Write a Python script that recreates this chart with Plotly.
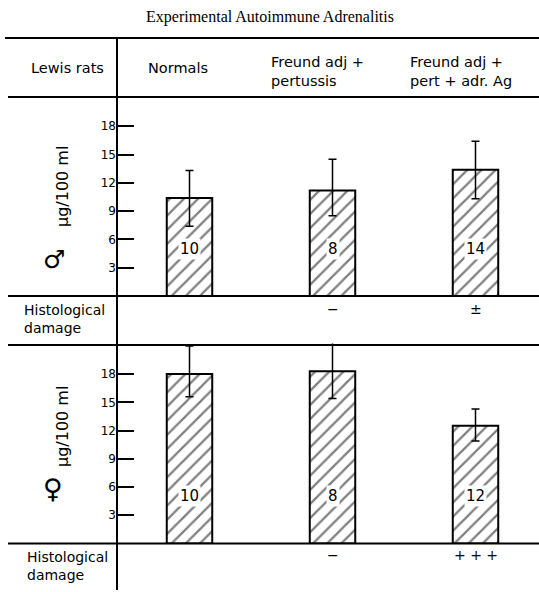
import plotly.graph_objects as go

W, H = 539, 592

# ---- data ----
groups = ["Normals", "Freund adj +<br>pertussis", "Freund adj +<br>pert + adr. Ag"]
male_mean = [10.4, 11.2, 13.4]
male_err_plus = [2.9, 3.3, 3.0]
male_err_minus = [3.0, 2.7, 3.1]
male_n = ["10", "8", "14"]
male_damage = ["", "\u2212", "\u00b1"]

female_mean = [18.0, 18.3, 12.5]
female_err_plus = [3.0, 3.7, 1.8]
female_err_minus = [2.4, 2.9, 1.6]
female_n = ["10", "8", "12"]
female_damage = ["", "\u2212", "+ + +"]

ytick_vals = [3, 6, 9, 12, 15, 18]
title_text = "Experimental Autoimmune Adrenalitis"
unit_label = "\u03bcg/100 ml"

FONT = "DejaVu Sans"
SERIF = "Liberation Serif"

def py(px):
    return 1 - px / H

def pxx(px):
    return px / W

# layout geometry (pixels)
AX_X = 117
x_pos = list(range(len(groups)))
c0, step = 189.5, 143.0
xr = [(AX_X - c0) / step, (W - c0) / step]

p1_base, p1_top, p1_scale = 296, 96, 9.43
p2_base, p2_top, p2_scale = 543.5, 343.5, 9.41

fig = go.Figure()

bar_style = dict(
    color="white",
    pattern=dict(shape="/", fgcolor="black", bgcolor="white", size=10, solidity=0.22),
    line=dict(color="black", width=2),
)
err_style = dict(type="data", symmetric=False, color="black", thickness=1.5, width=4)

fig.add_trace(go.Bar(
    x=x_pos, y=male_mean, width=0.318, marker=bar_style,
    error_y=dict(array=male_err_plus, arrayminus=male_err_minus, **err_style),
    xaxis="x", yaxis="y", showlegend=False, hoverinfo="skip",
))
fig.add_trace(go.Bar(
    x=x_pos, y=female_mean, width=0.318, marker=bar_style,
    error_y=dict(array=female_err_plus, arrayminus=female_err_minus, **err_style),
    xaxis="x2", yaxis="y2", showlegend=False, hoverinfo="skip",
))

xcommon = dict(range=xr, showline=False, showticklabels=False, showgrid=False,
               zeroline=False, ticks="", domain=[pxx(AX_X), 1])
ycommon = dict(tickvals=ytick_vals, ticks="inside", ticklen=17, tickwidth=1.5,
               tickcolor="black", showline=False, showgrid=False, zeroline=False,
               tickfont=dict(family=FONT, size=12, color="black"))

fig.update_layout(
    width=W, height=H,
    margin=dict(l=0, r=0, t=0, b=0),
    paper_bgcolor="white", plot_bgcolor="rgba(0,0,0,0)",
    xaxis=dict(anchor="y", **xcommon),
    yaxis=dict(anchor="x", domain=[py(p1_base), py(p1_top)],
               range=[0, (p1_base - p1_top) / p1_scale], **ycommon),
    xaxis2=dict(anchor="y2", **xcommon),
    yaxis2=dict(anchor="x2", domain=[py(p2_base), py(p2_top)],
                range=[0, (p2_base - p2_top) / p2_scale], **ycommon),
    barmode="group",
)

shapes = []
def hline(ypx, x0=8, x1=W, w=2):
    shapes.append(dict(type="line", xref="paper", yref="paper",
                       x0=pxx(x0), x1=pxx(x1), y0=py(ypx), y1=py(ypx),
                       line=dict(color="black", width=w)))
hline(38, 5)
hline(97, 8)
hline(p1_base, 8)
hline(345, 8)
hline(p2_base, 8)
shapes.append(dict(type="line", xref="paper", yref="paper",
                   x0=pxx(AX_X), x1=pxx(AX_X), y0=py(38), y1=py(590),
                   line=dict(color="black", width=2)))
fig.update_layout(shapes=shapes)

ann = []
def txt(text, xpx, ypx, size=13, xanchor="center", family=FONT, **kw):
    ann.append(dict(text=text, x=pxx(xpx), y=py(ypx), xref="paper", yref="paper",
                    xanchor=xanchor, yanchor="middle", showarrow=False,
                    font=dict(family=family, size=size, color="black"), **kw))

# title
txt(title_text, 270, 17, size=16, family=SERIF)
# header
txt("Lewis rats", 106, 68, size=14.5, xanchor="right")
hdr_left = [146, 269, 408]
hdr_y = [68, 72, 72]
for g, xl, yy in zip(groups, hdr_left, hdr_y):
    txt(g, xl, yy, size=14.5, xanchor="left", align="left")
# unit labels
for yc in (187, 427):
    txt(unit_label, 62, yc, size=16, textangle=-90)
# sex symbols
txt("\u2642", 54, 259, size=25)
txt("\u2640", 53, 488, size=27)
# histological damage labels
txt("Histological<br>damage", 22, 319, size=14, xanchor="left", align="left")
txt("Histological<br>damage", 25, 566, size=14, xanchor="left", align="left")
# n labels in bars
for xa, ya, labels in (("x", "y", male_n), ("x2", "y2", female_n)):
    for xv, t in zip(x_pos, labels):
        ann.append(dict(text=t, x=xv, y=5, xref=xa, yref=ya, showarrow=False,
                        xanchor="center", yanchor="middle",
                        bgcolor="white", borderpad=1,
                        font=dict(family=FONT, size=15, color="black")))
# damage marks
for ypx, labels in ((309, male_damage), (555, female_damage)):
    for xv, t in zip(x_pos, labels):
        if t:
            ann.append(dict(text=t, x=xv, y=py(ypx), xref="x", yref="paper", showarrow=False,
                            xanchor="center", yanchor="middle",
                            font=dict(family=FONT, size=14, color="black")))
fig.update_layout(annotations=ann)

fig.write_html("out.html")
